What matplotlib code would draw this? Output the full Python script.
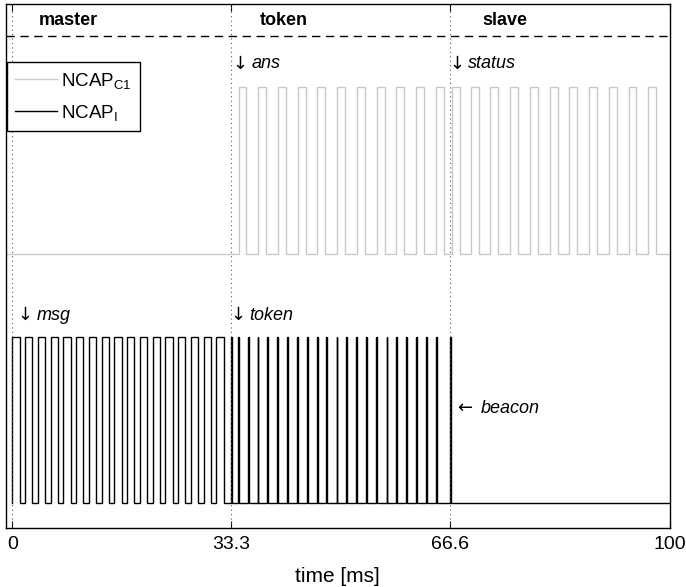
import matplotlib
matplotlib.use("Agg")
import matplotlib.pyplot as plt
from matplotlib.lines import Line2D
from matplotlib.transforms import offset_copy

plt.rcParams['font.family'] = ['Liberation Sans', 'DejaVu Sans']
plt.rcParams['mathtext.default'] = 'regular'

# ---------------- data ----------------
phase_bounds = [0, 33.3, 66.6]
phase_labels = ["master", "token", "slave"]
tick_values = [0, 33.3, 66.6, 100]
tick_labels = ["0", "33.3", "66.6", "100"]

# NCAP_C1 (grey): pulse rise times [ms] and pulse width
c1_ans_rises = [34.4, 37.4, 40.4, 43.4, 46.4, 49.4, 52.4, 55.4, 58.4, 61.4, 64.4]
c1_status_rises = [66.8, 69.8, 72.7, 75.7, 78.7, 81.7, 84.7, 87.7, 90.7, 93.7, 96.7]
c1_width = 1.2
c1_low, c1_high = 1.5, 2.5

# NCAP_I (black): message pulses, token spikes, beacon
i_msg_rises = [0.0, 1.94, 3.88, 5.82, 7.76, 9.7, 11.64, 13.58, 15.52, 17.46,
               19.4, 21.34, 23.28, 25.22, 27.16, 29.1, 31.04]
i_msg_width = 1.1
i_token_rises = [33.3, 34.3, 35.8, 37.3, 38.8, 40.3, 41.8, 43.3, 44.8, 46.4, 47.7,
                 49.3, 50.8, 52.3, 53.8, 55.3, 56.9, 58.4, 59.9, 61.4, 62.9, 64.4]
i_token_width = 0.12
i_beacon_rises = [66.6]
i_low, i_high = 0.0, 1.0

t_start, t_end = -1.0, 100.0

# annotations: (x [ms], y, arrow, word)
annotations = [
    (33.5, 2.64, "\u2193", "ans"),
    (66.5, 2.64, "\u2193", "status"),
    (0.8, 1.13, "\u2193", "msg"),
    (33.2, 1.13, "\u2193", "token"),
    (67.6, 0.57, "\u2190", "beacon"),
]


def square_wave(rises, width, low, high, t0, t1):
    xs, ys = [t0], [low]
    for r in rises:
        xs += [r, r, r + width, r + width]
        ys += [low, high, high, low]
    xs.append(t1)
    ys.append(low)
    return xs, ys


fig = plt.figure(figsize=(6.86, 5.87), dpi=100)
ax = fig.add_axes([0.0083, 0.1005, 0.9684, 0.8927])

# grey signal
gx, gy = square_wave(c1_ans_rises + c1_status_rises, c1_width, c1_low, c1_high, t_start, t_end)
ax.plot(gx, gy, color='#c8c8c8', lw=1.0, solid_joinstyle='miter')

# black signal
bx, by = square_wave(i_msg_rises, i_msg_width, i_low, i_high, 0.0, 33.3)
tx, ty = square_wave(i_token_rises + i_beacon_rises, i_token_width, i_low, i_high, 33.3, t_end)
ax.plot(bx + tx, by + ty, color='black', lw=1.0, solid_joinstyle='miter')

# phase separators
for b in phase_bounds:
    ax.axvline(b, color='#555555', lw=0.8, ls=(0, (1, 3)))
ax.axhline(2.807, color='black', lw=1.0, ls=(0, (6, 4)))

# phase labels
label_offsets = [4.0, 4.4, 4.9]
for b, lab, off in zip(phase_bounds, phase_labels, label_offsets):
    ax.text(b + off, 2.9, lab, fontsize=13, fontweight='bold', va='center', ha='left')

# annotations
for x, y, arrow, word in annotations:
    ax.text(x, y, arrow, fontsize=13, family='DejaVu Sans', va='center', ha='left')
    tr = offset_copy(ax.transData, fig=fig, x=13.5 if arrow == "\u2193" else 17, y=0, units='points')
    ax.text(x, y, word, fontsize=13, style='italic', va='center', ha='left', transform=tr)

ax.set_xlim(t_start, t_end)
ax.set_ylim(-0.15, 3.0)
ax.set_xticks(tick_values)
ax.set_xticklabels(tick_labels)
ax.set_yticks([])
ax.tick_params(axis='x', direction='in', length=5, top=True, labelsize=14, pad=6)
for s in ax.spines.values():
    s.set_linewidth(1.0)
ax.set_xlabel("time [ms]", fontsize=15, labelpad=10)

handles = [Line2D([], [], color='#c8c8c8', lw=1.0), Line2D([], [], color='black', lw=1.0)]
leg = ax.legend(handles, ["NCAP$_{C1}$", "NCAP$_{I}$"], loc='upper left',
                bbox_to_anchor=(0.002, 0.889), borderaxespad=0, fancybox=False,
                edgecolor='black', framealpha=1, fontsize=13.5, handlelength=2.2,
                handletextpad=0.25, labelspacing=0.65, borderpad=0.45)
leg.get_frame().set_linewidth(1.0)

fig.savefig("out.png", dpi=100)
